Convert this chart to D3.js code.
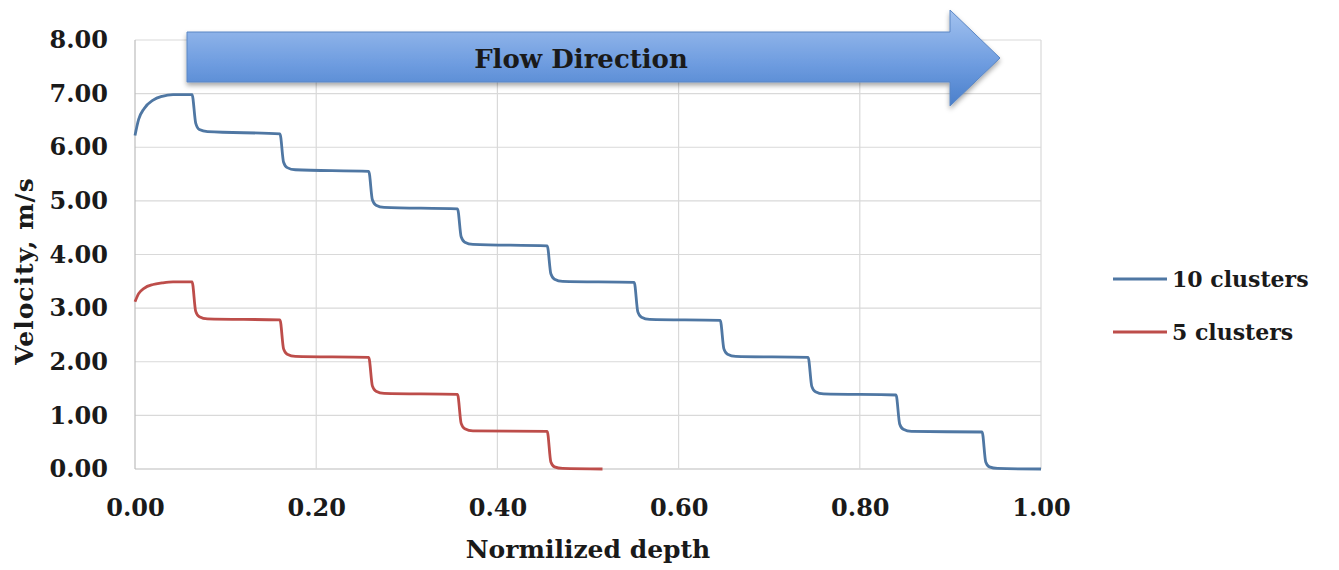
<!DOCTYPE html>
<html>
<head>
<meta charset="utf-8">
<script src="https://cdn.jsdelivr.net/npm/d3@7"></script>
<style>
  body { margin: 0; background: #fff; }
  text { font-family: "DejaVu Serif", serif; font-weight: bold; fill: #1a1a1a; }
</style>
</head>
<body>
<div id="chart"></div>
<script>
var svgWidth = 1339;
var svgHeight = 570;

var margin = { top: 40, right: 298, bottom: 101, left: 135 };
var width = 1041 - margin.left;
var height = 469 - margin.top;

// velocity profiles [normalized depth, velocity m/s]
var tenClusters = [
  [0.000, 6.22], [0.004, 6.52], [0.010, 6.72], [0.020, 6.88], [0.030, 6.95], [0.042, 6.98], [0.063, 6.98],
  [0.067, 6.45], [0.071, 6.33], [0.080, 6.29], [0.160, 6.25],
  [0.164, 5.72], [0.168, 5.62], [0.177, 5.58], [0.258, 5.55],
  [0.262, 5.02], [0.266, 4.92], [0.275, 4.88], [0.356, 4.85],
  [0.360, 4.33], [0.364, 4.23], [0.373, 4.19], [0.455, 4.16],
  [0.459, 3.64], [0.463, 3.54], [0.472, 3.50], [0.551, 3.48],
  [0.555, 2.93], [0.559, 2.83], [0.568, 2.79], [0.646, 2.77],
  [0.650, 2.24], [0.654, 2.14], [0.663, 2.10], [0.743, 2.08],
  [0.747, 1.54], [0.751, 1.44], [0.760, 1.40], [0.840, 1.38],
  [0.844, 0.84], [0.848, 0.74], [0.857, 0.70], [0.935, 0.69],
  [0.939, 0.13], [0.943, 0.04], [0.952, 0.01], [1.000, 0.00]
];

var fiveClusters = [
  [0.000, 3.12], [0.004, 3.27], [0.010, 3.37], [0.020, 3.44], [0.030, 3.47], [0.042, 3.49], [0.063, 3.49],
  [0.067, 2.94], [0.071, 2.84], [0.080, 2.80], [0.160, 2.78],
  [0.164, 2.24], [0.168, 2.14], [0.177, 2.10], [0.258, 2.08],
  [0.262, 1.55], [0.266, 1.45], [0.275, 1.41], [0.356, 1.39],
  [0.360, 0.85], [0.364, 0.75], [0.373, 0.71], [0.455, 0.70],
  [0.459, 0.13], [0.463, 0.04], [0.472, 0.01], [0.516, 0.00]
];

var seriesNames = ["10 clusters", "5 clusters"];
var seriesColors = ["#4f77a3", "#bd4d4a"];
var xTicks = [0, 0.2, 0.4, 0.6, 0.8, 1.0];
var yTicks = [0, 1, 2, 3, 4, 5, 6, 7, 8];
var arrowLabel = "Flow Direction";

var svg = d3.select("#chart")
  .append("svg")
  .attr("width", svgWidth)
  .attr("height", svgHeight);

var chartGroup = svg.append("g")
  .attr("transform", `translate(${margin.left}, ${margin.top})`);

var xScale = d3.scaleLinear().domain([0, 1]).range([0, width]);
var yScale = d3.scaleLinear().domain([0, 8]).range([height, 0]);

// gridlines
chartGroup.append("g")
  .selectAll("line.h")
  .data(yTicks)
  .enter()
  .append("line")
  .attr("x1", 0)
  .attr("x2", width)
  .attr("y1", d => yScale(d))
  .attr("y2", d => yScale(d))
  .attr("stroke", d => d === 0 ? "#bcbcbc" : "#d9d9d9")
  .attr("stroke-width", 1.2);

chartGroup.append("g")
  .selectAll("line.v")
  .data(xTicks)
  .enter()
  .append("line")
  .attr("x1", d => xScale(d))
  .attr("x2", d => xScale(d))
  .attr("y1", 0)
  .attr("y2", height)
  .attr("stroke", d => d === 0 ? "#bcbcbc" : "#d9d9d9")
  .attr("stroke-width", 1.2);

// axes (labels only, grid lines drawn above)
var bottomAxis = d3.axisBottom(xScale).tickValues(xTicks).tickFormat(d3.format(".2f")).tickSize(0).tickPadding(30);
var leftAxis = d3.axisLeft(yScale).tickValues(yTicks).tickFormat(d3.format(".2f")).tickSize(0).tickPadding(27);

var xAxis = chartGroup.append("g")
  .attr("transform", `translate(0, ${height})`)
  .call(bottomAxis);
var yAxis = chartGroup.append("g").call(leftAxis);

[xAxis, yAxis].forEach(function(ax) {
  ax.select(".domain").remove();
  ax.selectAll("text")
    .style("font-family", "'DejaVu Serif', serif")
    .style("font-weight", "bold")
    .style("font-size", "24px")
    .attr("fill", "#1a1a1a");
});

// lines
var line = d3.line()
  .x(d => xScale(d[0]))
  .y(d => yScale(d[1]))
  .curve(d3.curveMonotoneX);

[tenClusters, fiveClusters].forEach(function(series, i) {
  chartGroup.append("path")
    .datum(series)
    .attr("fill", "none")
    .attr("stroke", seriesColors[i])
    .attr("stroke-width", 2.8)
    .attr("stroke-linejoin", "round")
    .attr("d", line);
});

// flow direction arrow
var defs = svg.append("defs");
var grad = defs.append("linearGradient")
  .attr("id", "arrowFill")
  .attr("x1", 0).attr("y1", 0).attr("x2", 0).attr("y2", 1);
grad.append("stop").attr("offset", "0%").attr("stop-color", "#a3c2ef");
grad.append("stop").attr("offset", "55%").attr("stop-color", "#6f9de0");
grad.append("stop").attr("offset", "100%").attr("stop-color", "#4a7fcb");

var shadow = defs.append("filter").attr("id", "arrowShadow")
  .attr("x", "-5%").attr("y", "-20%").attr("width", "110%").attr("height", "150%");
shadow.append("feDropShadow")
  .attr("dx", 0).attr("dy", 3).attr("stdDeviation", 2.5)
  .attr("flood-color", "#000").attr("flood-opacity", 0.35);

var arrowPts = [[187, 32], [950, 32], [950, 10], [1000, 58], [950, 106], [950, 82], [187, 82]];
svg.append("path")
  .attr("d", "M" + arrowPts.map(p => p.join(",")).join("L") + "Z")
  .attr("fill", "url(#arrowFill)")
  .attr("stroke", "#5a86c4")
  .attr("stroke-width", 1)
  .attr("filter", "url(#arrowShadow)");

svg.append("text")
  .attr("x", 581)
  .attr("y", 68)
  .attr("text-anchor", "middle")
  .style("font-size", "26px")
  .attr("fill", "#1c2840")
  .text(arrowLabel);

// axis titles
svg.append("text")
  .attr("x", 588)
  .attr("y", 558)
  .attr("text-anchor", "middle")
  .style("font-size", "25px")
  .text("Normilized depth");

svg.append("text")
  .attr("transform", "translate(33, 271) rotate(-90)")
  .attr("text-anchor", "middle")
  .style("font-size", "25px")
  .style("letter-spacing", "1px")
  .text("Velocity, m/s");

// legend
var legend = svg.append("g").attr("transform", "translate(1113, 279)");
seriesNames.forEach(function(name, i) {
  var row = legend.append("g").attr("transform", `translate(0, ${i * 53})`);
  row.append("line")
    .attr("x1", 0).attr("x2", 54)
    .attr("y1", 0).attr("y2", 0)
    .attr("stroke", seriesColors[i])
    .attr("stroke-width", 2.8);
  row.append("text")
    .attr("x", 59)
    .attr("y", 8)
    .style("font-size", "22px")
    .text(name);
});
</script>
</body>
</html>
